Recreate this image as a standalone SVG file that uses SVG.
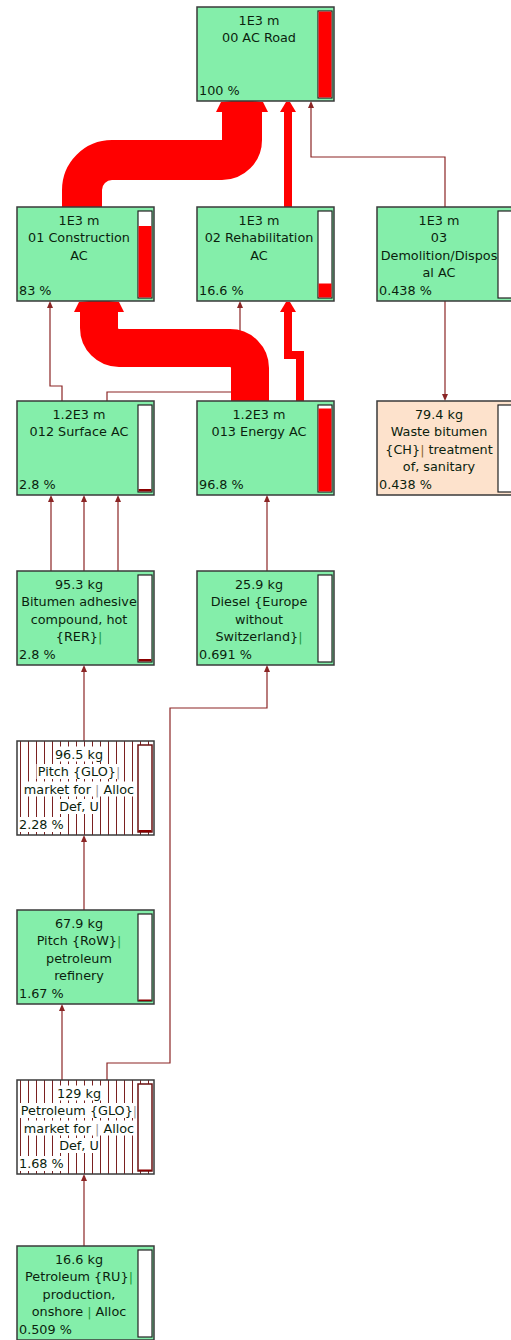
<svg xmlns="http://www.w3.org/2000/svg" width="511" height="1340" viewBox="0 0 511 1340">
<style>
.box{fill:#84eeaa;stroke:#3a3a3a;stroke-width:1.5}
.waste{fill:#fde2cc;stroke:#3a3a3a;stroke-width:1.5}
.hbox{fill:url(#hatch);stroke:#3a3a3a;stroke-width:1.5}
.bar{fill:#fff;stroke:#222;stroke-width:1.2}
.hbar{fill:#fff;stroke:#6a1010;stroke-width:1.5}
.red{fill:#ff0000}
.dred{fill:#8b0000}
.t{font-family:"DejaVu Sans",Verdana,sans-serif;font-size:12.8px;fill:#0b1f0e;text-anchor:middle}
.p{font-family:"DejaVu Sans",Verdana,sans-serif;font-size:12.8px;fill:#0b1f0e;text-anchor:start}
.sep{fill:#1f9a3a}
.gsep{fill:#999}
.wsep{fill:#8a6a30}
.bg{fill:#fff}
.thin{fill:none;stroke:#8b2525;stroke-width:1.2}
.band{fill:none;stroke:#ff0000}
.ah{fill:#8b2525}
</style>
<defs>
<pattern id="hatch" width="8" height="10" patternUnits="userSpaceOnUse">
<rect width="8" height="10" fill="#fff"/>
<line x1="4.5" y1="0" x2="4.5" y2="10" stroke="#7a2020" stroke-width="1"/>
</pattern>
</defs>

<g id="connectors">
<path class="thin" d="M445,207 V157 H311 V107"/>
<path class="ah" d="M311,101 l-3,7 h6 z"/>
<path class="thin" d="M62,401 V386 H50 V307"/>
<path class="ah" d="M50,301 l-3,7 h6 z"/>
<path class="thin" d="M107,401 V392 H240 V307"/>
<path class="ah" d="M240,301 l-3,7 h6 z"/>
<path class="thin" d="M445,301 V395"/>
<path class="ah" d="M445,401 l-3,-7 h6 z"/>
<path class="thin" d="M51,571 V501 M84,571 V501 M118,571 V501"/>
<path class="ah" d="M51,495 l-3,7 h6 z M84,495 l-3,7 h6 z M118,495 l-3,7 h6 z"/>
<path class="thin" d="M267,571 V501"/>
<path class="ah" d="M267,495 l-3,7 h6 z"/>
<path class="thin" d="M84,741 V671"/>
<path class="ah" d="M84,665 l-3,7 h6 z"/>
<path class="thin" d="M84,910 V841"/>
<path class="ah" d="M84,835 l-3,7 h6 z"/>
<path class="thin" d="M62,1080 V1010"/>
<path class="ah" d="M62,1004 l-3,7 h6 z"/>
<path class="thin" d="M107,1080 V1063 H170 V708 H267 V671"/>
<path class="ah" d="M267,665 l-3,7 h6 z"/>
<path class="thin" d="M84,1246 V1180"/>
<path class="ah" d="M84,1174 l-3,7 h6 z"/>

<path class="band" stroke-width="40" d="M82,207 V190 A30,30 0 0 1 112,160 H222 A20,20 0 0 0 242,140 V110"/>
<path class="red" d="M216,112 L221,102 Q242,99 263,102 L268,112 Z"/>
<path class="band" stroke-width="8" d="M288,207 V110"/>
<path class="red" d="M280,112 L286,102 H290 L296,112 Z"/>
<path class="band" stroke-width="38" d="M250,401 V368 A20,20 0 0 0 230,348 H119 A20,20 0 0 1 99,328 V310"/>
<path class="red" d="M74,312 L79,302 Q99,299 119,302 L124,312 Z"/>
<path class="band" stroke-width="8" d="M300,401 V355 H288 V310"/>
<path class="red" d="M280,312 L286,302 H290 L296,312 Z"/>
</g>

<g id="n00">
<rect class="box" x="197" y="7" width="137" height="94"/>
<rect class="bar" x="318" y="11" width="14" height="87"/>
<rect class="red" x="318.6" y="11.6" width="12.8" height="85.8"/>
<text class="t" x="259" y="24.5">1E3 m</text>
<text class="t" x="259" y="42">00 AC Road</text>
<text class="p" x="199" y="95">100 %</text>
</g>

<g id="n01">
<rect class="box" x="17" y="207" width="137" height="94"/>
<rect class="bar" x="138" y="211" width="14" height="87"/>
<rect class="red" x="138.6" y="226" width="12.8" height="71.4"/>
<text class="t" x="79" y="224.5">1E3 m</text>
<text class="t" x="79" y="242">01 Construction</text>
<text class="t" x="79" y="259.5">AC</text>
<text class="p" x="19" y="295">83 %</text>
</g>

<g id="n02">
<rect class="box" x="197" y="207" width="137" height="94"/>
<rect class="bar" x="318" y="211" width="14" height="87"/>
<rect class="red" x="318.6" y="283.5" width="12.8" height="13.9"/>
<text class="t" x="259" y="224.5">1E3 m</text>
<text class="t" x="259" y="242">02 Rehabilitation</text>
<text class="t" x="259" y="259.5">AC</text>
<text class="p" x="199" y="295">16.6 %</text>
</g>

<g id="n03">
<rect class="box" x="377" y="207" width="137" height="94"/>
<rect class="bar" x="498" y="211" width="14" height="87"/>
<text class="t" x="439" y="224.5">1E3 m</text>
<text class="t" x="439" y="242">03</text>
<text class="t" x="439" y="259.5">Demolition/Dispos</text>
<text class="t" x="439" y="277">al AC</text>
<text class="p" x="379" y="295">0.438 %</text>
</g>

<g id="n012">
<rect class="box" x="17" y="401" width="137" height="94"/>
<rect class="bar" x="138" y="405" width="14" height="87"/>
<rect class="dred" x="138.6" y="489" width="12.8" height="2.4"/>
<text class="t" x="79" y="418.5">1.2E3 m</text>
<text class="t" x="79" y="436">012 Surface AC</text>
<text class="p" x="19" y="489">2.8 %</text>
</g>

<g id="n013">
<rect class="box" x="197" y="401" width="137" height="94"/>
<rect class="bar" x="318" y="405" width="14" height="87"/>
<rect class="red" x="318.6" y="408.5" width="12.8" height="82.9"/>
<text class="t" x="259" y="418.5">1.2E3 m</text>
<text class="t" x="259" y="436">013 Energy AC</text>
<text class="p" x="199" y="489">96.8 %</text>
</g>

<g id="nWaste">
<rect class="waste" x="377" y="401" width="137" height="94"/>
<rect class="bar" x="498" y="405" width="14" height="87"/>
<text class="t" x="439" y="418.5">79.4 kg</text>
<text class="t" x="439" y="436">Waste bitumen</text>
<text class="t" x="439" y="453.5">{CH}<tspan class="wsep">|</tspan> treatment</text>
<text class="t" x="439" y="471">of, sanitary</text>
<text class="p" x="379" y="489">0.438 %</text>
</g>

<g id="nBitumen">
<rect class="box" x="17" y="571" width="137" height="94"/>
<rect class="bar" x="138" y="575" width="14" height="87"/>
<rect class="dred" x="138.6" y="659" width="12.8" height="2.4"/>
<text class="t" x="79" y="588.5">95.3 kg</text>
<text class="t" x="79" y="606">Bitumen adhesive</text>
<text class="t" x="79" y="623.5">compound, hot</text>
<text class="t" x="79" y="641">{RER}<tspan class="sep">|</tspan></text>
<text class="p" x="19" y="659">2.8 %</text>
</g>

<g id="nDiesel">
<rect class="box" x="197" y="571" width="137" height="94"/>
<rect class="bar" x="318" y="575" width="14" height="87"/>
<text class="t" x="259" y="588.5">25.9 kg</text>
<text class="t" x="259" y="606">Diesel {Europe</text>
<text class="t" x="259" y="623.5">without</text>
<text class="t" x="259" y="641">Switzerland}<tspan class="sep">|</tspan></text>
<text class="p" x="199" y="659">0.691 %</text>
</g>

<g id="nPitchGLO">
<rect class="hbox" x="17" y="741" width="137" height="94"/>
<rect class="bg" x="53.5" y="746.5" width="51" height="15"/>
<rect class="bg" x="36.5" y="764" width="85" height="15"/>
<rect class="bg" x="22.5" y="781.5" width="113" height="15"/>
<rect class="bg" x="58" y="799" width="42" height="15"/>
<rect class="bg" x="18" y="817" width="47" height="15"/>
<rect class="hbar" x="138" y="745" width="14" height="87"/>
<rect class="dred" x="138.6" y="830" width="12.8" height="2"/>
<text class="t" x="79" y="758.5">96.5 kg</text>
<text class="t" x="79" y="776">Pitch {GLO}<tspan class="gsep">|</tspan></text>
<text class="t" x="79" y="793.5">market for <tspan class="gsep">|</tspan> Alloc</text>
<text class="t" x="79" y="811">Def, U</text>
<text class="p" x="19" y="829">2.28 %</text>
</g>

<g id="nPitchRoW">
<rect class="box" x="17" y="910" width="137" height="94"/>
<rect class="bar" x="138" y="914" width="14" height="87"/>
<rect class="dred" x="138.6" y="999.5" width="12.8" height="1.5"/>
<text class="t" x="79" y="927.5">67.9 kg</text>
<text class="t" x="79" y="945">Pitch {RoW}<tspan class="sep">|</tspan></text>
<text class="t" x="79" y="962.5">petroleum</text>
<text class="t" x="79" y="980">refinery</text>
<text class="p" x="19" y="998">1.67 %</text>
</g>

<g id="nPetGLO">
<rect class="hbox" x="17" y="1080" width="137" height="94"/>
<rect class="bg" x="56" y="1085.5" width="46" height="15"/>
<rect class="bg" x="19.5" y="1103" width="119" height="15"/>
<rect class="bg" x="22.5" y="1120.5" width="113" height="15"/>
<rect class="bg" x="58" y="1138" width="42" height="15"/>
<rect class="bg" x="18" y="1156" width="47" height="15"/>
<rect class="hbar" x="138" y="1084" width="14" height="87"/>
<rect class="dred" x="138.6" y="1169.5" width="12.8" height="1.5"/>
<text class="t" x="79" y="1097.5">129 kg</text>
<text class="t" x="79" y="1115">Petroleum {GLO}<tspan class="gsep">|</tspan></text>
<text class="t" x="79" y="1132.5">market for <tspan class="gsep">|</tspan> Alloc</text>
<text class="t" x="79" y="1150">Def, U</text>
<text class="p" x="19" y="1168">1.68 %</text>
</g>

<g id="nPetRU">
<rect class="box" x="17" y="1246" width="137" height="94"/>
<rect class="bar" x="138" y="1250" width="14" height="87"/>
<text class="t" x="79" y="1263.5">16.6 kg</text>
<text class="t" x="79" y="1281">Petroleum {RU}<tspan class="sep">|</tspan></text>
<text class="t" x="79" y="1298.5">production,</text>
<text class="t" x="79" y="1316">onshore <tspan class="sep">|</tspan> Alloc</text>
<text class="p" x="19" y="1334">0.509 %</text>
</g>
</svg>
